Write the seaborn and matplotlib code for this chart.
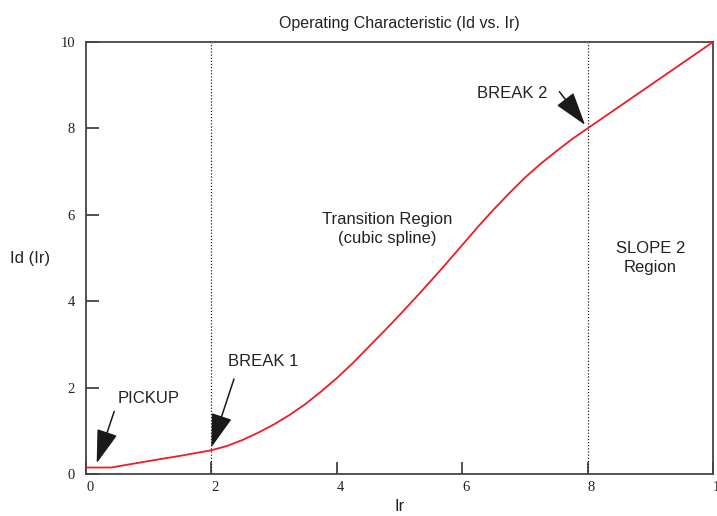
import matplotlib
matplotlib.use("Agg")
import matplotlib.pyplot as plt
import seaborn as sns
import pandas as pd

# Operating characteristic: restraint current Ir vs. differential current Id
ir_values = [0.0, 0.4, 1.0, 1.5, 2.0, 2.25, 2.5, 2.75, 3.0, 3.25, 3.5, 3.75,
             4.0, 4.25, 4.5, 4.75, 5.0, 5.25, 5.5, 5.75, 6.0, 6.25, 6.5, 6.75,
             7.0, 7.25, 7.5, 7.75, 8.0, 9.0, 10.0]
id_values = [0.15, 0.15, 0.30, 0.42, 0.55, 0.65, 0.79, 0.96, 1.15, 1.37, 1.62, 1.91,
             2.22, 2.56, 2.93, 3.30, 3.68, 4.07, 4.47, 4.88, 5.30, 5.72, 6.12, 6.50,
             6.86, 7.18, 7.47, 7.75, 8.0, 9.0, 10.0]

break_points = [2, 8]
tick_values = [0, 2, 4, 6, 8, 10]
tick_labels = ["0", "2", "4", "6", "8", "10"]

sns.set_theme(style="white")
plt.rcParams["font.family"] = ["Liberation Sans", "DejaVu Sans"]

df = pd.DataFrame({"Ir": ir_values, "Id": id_values})

fig = plt.figure(figsize=(7.17, 5.16), dpi=100)
ax = fig.add_axes([0.120, 0.0814, 0.8744, 0.8372])

for bp in break_points:
    ax.axvline(bp, color="#222222", lw=0.9, ls=(0, (1, 1.5)), zorder=1)

sns.lineplot(data=df, x="Ir", y="Id", color="#ee1c24", lw=1.3, ax=ax, zorder=3)

ax.set_xlim(0, 10)
ax.set_ylim(0, 10)
ax.set_xticks(tick_values)
ax.set_yticks(tick_values)
ax.set_xticklabels(tick_labels, family="Liberation Serif", fontsize=10.5)
ax.set_yticklabels(tick_labels, family="Liberation Serif", fontsize=10.5)
ax.tick_params(axis="both", direction="in", length=9, width=1.2, color="#333333",
               bottom=True, left=True, labelcolor="#222222")
ax.tick_params(axis="x", pad=5)
ax.tick_params(axis="y", pad=8)
for lbl in ax.get_xticklabels():
    lbl.set_horizontalalignment("left")

for sp in ax.spines.values():
    sp.set_color("#444444")
    sp.set_linewidth(1.3)

ax.set_xlabel("Ir", fontsize=12, color="#222222", labelpad=4)
ax.set_ylabel("Id (Ir)", fontsize=12, color="#222222", rotation=0, labelpad=22,
              va="center")
ax.set_title("Operating Characteristic (Id vs. Ir)", fontsize=11.5,
             color="#222222", pad=10)

arrow = dict(arrowstyle="-|>,head_length=0.7,head_width=0.22", mutation_scale=30,
             color="#1a1a1a", lw=1.1, shrinkA=0, shrinkB=0)
ax.text(1.0, 1.75, "PICKUP", fontsize=12, ha="center", va="center", color="#222222")
ax.annotate("", xy=(0.17, 0.25), xytext=(0.45, 1.45), arrowprops=arrow)
ax.text(2.83, 2.6, "BREAK 1", fontsize=12, ha="center", va="center", color="#222222")
ax.annotate("", xy=(2.0, 0.62), xytext=(2.36, 2.2), arrowprops=arrow)
ax.text(6.8, 8.8, "BREAK 2", fontsize=12, ha="center", va="center", color="#222222")
ax.annotate("", xy=(7.96, 8.08), xytext=(7.55, 8.85), arrowprops=arrow)

ax.text(4.8, 5.67, "Transition Region\n(cubic spline)", fontsize=12,
        ha="center", va="center", color="#222222", linespacing=1.3)
ax.text(9.0, 5.0, "SLOPE 2\nRegion", fontsize=12, ha="center", va="center",
        color="#222222", linespacing=1.3)

fig.savefig("out.png", dpi=100)
